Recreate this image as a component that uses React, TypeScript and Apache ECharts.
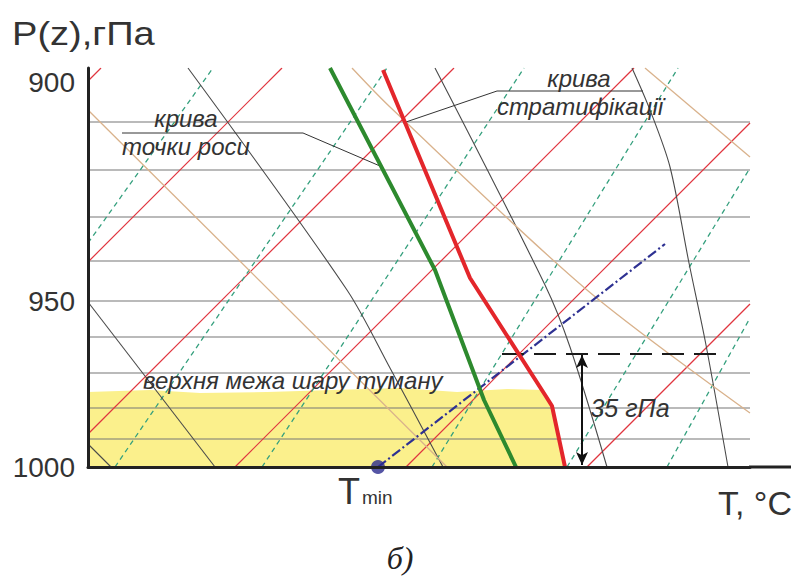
import React, { useEffect, useRef } from "react";
import * as echarts from "echarts";

// Diagram units: X grows to the right (temperature direction), Y grows upward (height / falling pressure)
const pressureTicks = ["1000", "950", "900"];
const pressureTickPos = [0, 166, 385];

// horizontal isobars
const isobarLevels = [345, 297, 250, 206, 166, 130, 94, 59, 28];

// thin red lines (isotherms)
const isotherms: number[][][] = [
  [[0, 386], [13, 399]],
  [[0, 205], [194, 399]],
  [[0, 33], [366, 399]],
  [[147, 0], [546, 399]],
  [[318, 0], [662, 344]],
  [[499, 0], [662, 163]],
];

// green dashed lines (mixing ratio)
const mixingRatio: number[][][] = [
  [[0, 224], [125, 399]],
  [[27, 0], [299, 399]],
  [[174, 0], [436, 399]],
  [[344, 0], [590, 399]],
  [[479, 0], [662, 299]],
  [[579, 0], [662, 149]],
];

// dark thin curves (moist adiabats)
const moistAdiabats: number[][][] = [
  [[100, 399], [259, 177], [302, 99], [355, 0]],
  [[0, 165], [127, 0]],
  [[0, 23], [23, 0]],
  [[347, 399], [457, 182], [482, 120], [519, 0]],
  [[544, 399], [562, 357], [582, 300], [601, 204], [618, 122], [640, 0]],
];

// tan curves (dry adiabats)
const dryAdiabats: number[][][] = [
  [[0, 357], [359, 0]],
  [[264, 399], [302, 360], [499, 177], [662, 54]],
  [[557, 399], [662, 310]],
];

// sounding curves
const dewPointCurve = [[242, 399], [347, 197], [396, 67], [428, 0]];
const stratificationCurve = [[295, 397], [382, 189], [459, 69], [464, 61], [477, 0]];

// fog layer top (then follows the stratification curve down to the ground)
const fogLayer = [
  [0, 75], [62, 77], [112, 74], [179, 75], [245, 77], [312, 79], [369, 75],
  [419, 78], [455, 77], [459, 69], [464, 61], [477, 0],
];

// condensation line from Tmin
const tMinPoint = [290, 0];
const condensationLine = [[290, 0], [577, 223]];

// fog top level and thickness arrow
const fogTopLevel = [[414, 113], [630, 113]];
const thicknessArrow = [[494, 112], [494, 2]];

// leader lines for labels
const dewLeader = [[34, 334], [215, 334], [292, 301]];
const stratLeader = [[555, 376], [409, 376], [315, 344]];

const SANS = "'Liberation Sans', Arial, Helvetica, sans-serif";

function lineSeries(data: number[][], lineStyle: any, z = 2, extra: any = {}) {
  return {
    type: "line",
    data,
    symbol: "none",
    showSymbol: false,
    silent: true,
    z,
    lineStyle,
    ...extra,
  };
}

export default function App() {
  const ref = useRef<HTMLDivElement>(null);

  useEffect(() => {
    if (!ref.current) return;
    const chart = echarts.init(ref.current, undefined, { renderer: "svg" });

    const series: any[] = [];

    series.push(
      lineSeries(fogLayer, { width: 0, opacity: 0 }, 1, {
        areaStyle: { color: "#fbf08c", opacity: 1 },
      })
    );

    isobarLevels.forEach((y) =>
      series.push(lineSeries([[0, y], [662, y]], { color: "#767676", width: 1.2 }, 2))
    );
    isotherms.forEach((d) => series.push(lineSeries(d, { color: "#e0353f", width: 1.2 }, 2)));
    mixingRatio.forEach((d) =>
      series.push(lineSeries(d, { color: "#35a07e", width: 1.3, type: [5, 4] }, 2))
    );
    moistAdiabats.forEach((d) =>
      series.push(lineSeries(d, { color: "#4a4a4a", width: 1.1 }, 2, { smooth: 0.3 }))
    );
    dryAdiabats.forEach((d) =>
      series.push(lineSeries(d, { color: "#d9b28c", width: 1.3 }, 2, { smooth: 0.3 }))
    );

    series.push(lineSeries(dewLeader, { color: "#333", width: 1 }, 3));
    series.push(lineSeries(stratLeader, { color: "#333", width: 1 }, 3));

    series.push(
      lineSeries(condensationLine, { color: "#2e3192", width: 2.2, type: [10, 3, 2, 3] }, 4)
    );

    series.push(
      lineSeries(fogTopLevel, { color: "#1a1a1a", width: 2, type: [22, 10] }, 4, {
        markLine: {
          silent: true,
          symbol: ["arrow", "arrow"],
          symbolSize: [9, 13],
          label: { show: false },
          lineStyle: { color: "#111", width: 2, type: "solid" },
          data: [[{ coord: thicknessArrow[0] }, { coord: thicknessArrow[1] }]],
        },
      })
    );

    series.push(lineSeries(dewPointCurve, { color: "#2d8a2e", width: 4 }, 5));
    series.push(lineSeries(stratificationCurve, { color: "#e3262b", width: 4 }, 5));

    series.push({
      type: "scatter",
      data: [tMinPoint],
      symbolSize: 14,
      itemStyle: { color: "#2b2b8f" },
      silent: true,
      z: 6,
      clip: false,
    });

    const italic = (text: string, x: number, y: number, size = 25, align = "center") => ({
      type: "text",
      z: 20,
      style: {
        text,
        x,
        y,
        font: `italic ${size}px ${SANS}`,
        fill: "#333",
        textAlign: align,
        textVerticalAlign: "middle",
      },
    });

    chart.setOption({
      animation: false,
      grid: { left: 88, top: 68, width: 662, height: 399, containLabel: false },
      xAxis: {
        type: "value",
        min: 0,
        max: 662,
        z: 10,
        axisLine: { show: true, lineStyle: { color: "#222", width: 3 } },
        axisTick: { show: false },
        axisLabel: { show: false },
        splitLine: { show: false },
      },
      yAxis: {
        type: "value",
        min: 0,
        max: 399,
        z: 10,
        axisLine: { show: true, lineStyle: { color: "#222", width: 3 } },
        axisTick: { show: false },
        splitLine: { show: false },
        axisLabel: {
          customValues: pressureTickPos,
          formatter: (v: number) => pressureTicks[pressureTickPos.indexOf(v)] ?? "",
          fontSize: 28,
          fontFamily: SANS,
          color: "#333",
          margin: 13,
        },
      },
      series,
      graphic: [
        {
          type: "line",
          z: 10,
          shape: { x1: 749, y1: 467, x2: 791, y2: 467 },
          style: { stroke: "#222", lineWidth: 3 },
        },
        {
          type: "text",
          z: 20,
          x: 12,
          y: 33,
          scaleX: 1.12,
          style: {
            text: "P(z),гПа",
            x: 0,
            y: 0,
            font: `34px ${SANS}`,
            fill: "#333",
            textVerticalAlign: "middle",
          },
        },
        italic("крива", 186, 118, 24),
        italic("точки роси", 186, 146, 24),
        italic("крива", 579, 78, 24),
        italic("стратифікації", 580, 106, 24),
        italic("верхня межа шару туману", 143, 380, 24, "left"),
        italic("35 гПа", 630, 408, 25),
        {
          type: "text",
          z: 20,
          style: {
            text: "T",
            x: 349,
            y: 491,
            font: `36px ${SANS}`,
            fill: "#333",
            textAlign: "center",
            textVerticalAlign: "middle",
          },
        },
        {
          type: "text",
          z: 20,
          style: {
            text: "min",
            x: 362,
            y: 497,
            font: `19px ${SANS}`,
            fill: "#333",
            textAlign: "left",
            textVerticalAlign: "middle",
          },
        },
        {
          type: "text",
          z: 20,
          style: {
            text: "T, °C",
            x: 792,
            y: 503,
            font: `34px ${SANS}`,
            fill: "#333",
            textAlign: "right",
            textVerticalAlign: "middle",
          },
        },
        {
          type: "text",
          z: 20,
          style: {
            text: "б)",
            x: 400,
            y: 558,
            font: `italic 32px 'Liberation Serif', 'DejaVu Serif', serif`,
            fill: "#222",
            textAlign: "center",
            textVerticalAlign: "middle",
          },
        },
      ],
    });

    return () => chart.dispose();
  }, []);

  return (
    <div
      ref={ref}
      style={{ position: "fixed", left: 0, top: 0, width: 793, height: 577, background: "#fff" }}
    />
  );
}
